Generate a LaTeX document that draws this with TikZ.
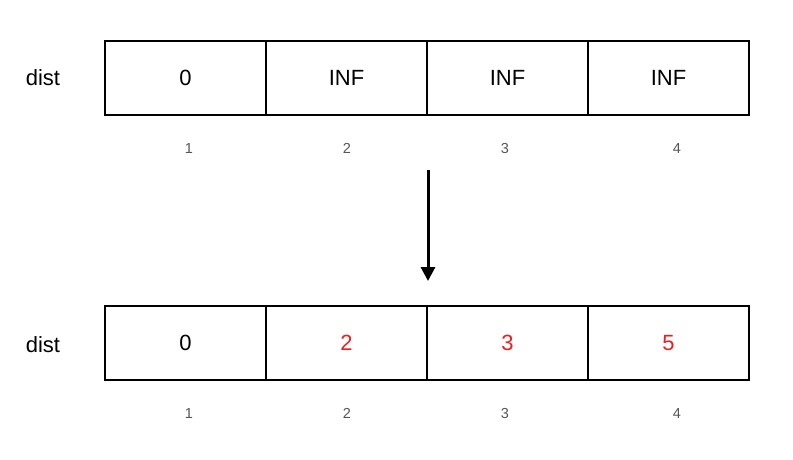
\documentclass[tikz,border=0pt]{standalone}
\usepackage{fontspec}
\setmainfont{Liberation Sans}
\usetikzlibrary{positioning, arrows.meta}
\definecolor{valred}{HTML}{E82020}
\definecolor{idxgray}{HTML}{555555}
\tikzset{
	x=1pt, y=-1pt, % Unidades en pixeles de la imagen
	node distance=0pt, % Las celdas van pegadas
	cell/.style={draw, line width=1.1pt, outer sep=0pt, minimum width=161pt, minimum height=74pt, inner sep=0pt, font=\fontsize{22}{26}\selectfont}, % Celdas del arreglo
	idx/.style={anchor=base, text=idxgray, font=\fontsize{14.5}{17}\selectfont}, % Indices
	rowname/.style={font=\fontsize{22}{26}\selectfont} % Nombre del arreglo
}

\begin{document}
\begin{tikzpicture}
			\useasboundingbox (0,0) rectangle (793,459);
			% Arreglo inicial
			\node[cell, anchor=north west] (a1) at (105,41) {0};
			\node[cell, right=of a1] (a2) {INF};
			\node[cell, right=of a2] (a3) {INF};
			\node[cell, right=of a3] (a4) {INF};
			\node[rowname] (an) at (43,78) {dist};
			\node[idx] (i1) at (189,153) {1};
			\node[idx] (i2) at (347,153) {2};
			\node[idx] (i3) at (505,153) {3};
			\node[idx] (i4) at (677,153) {4};
			% Arreglo despues de relajar
			\node[cell, anchor=north west] (b1) at (105,306) {0};
			\node[cell, right=of b1, text=valred] (b2) {2};
			\node[cell, right=of b2, text=valred] (b3) {3};
			\node[cell, right=of b3, text=valred] (b4) {5};
			\node[rowname] (bn) at (43,345) {dist};
			\node[idx] (j1) at (189,418) {1};
			\node[idx] (j2) at (347,418) {2};
			\node[idx] (j3) at (505,418) {3};
			\node[idx] (j4) at (677,418) {4};
			% Flecha
			\coordinate (top) at (428,170);
			\coordinate (bot) at (428,281);
			\draw[line width=3pt, -{Triangle[width=14pt, length=14pt]}] (top) -- (bot);
			\end{tikzpicture}
\end{document}
